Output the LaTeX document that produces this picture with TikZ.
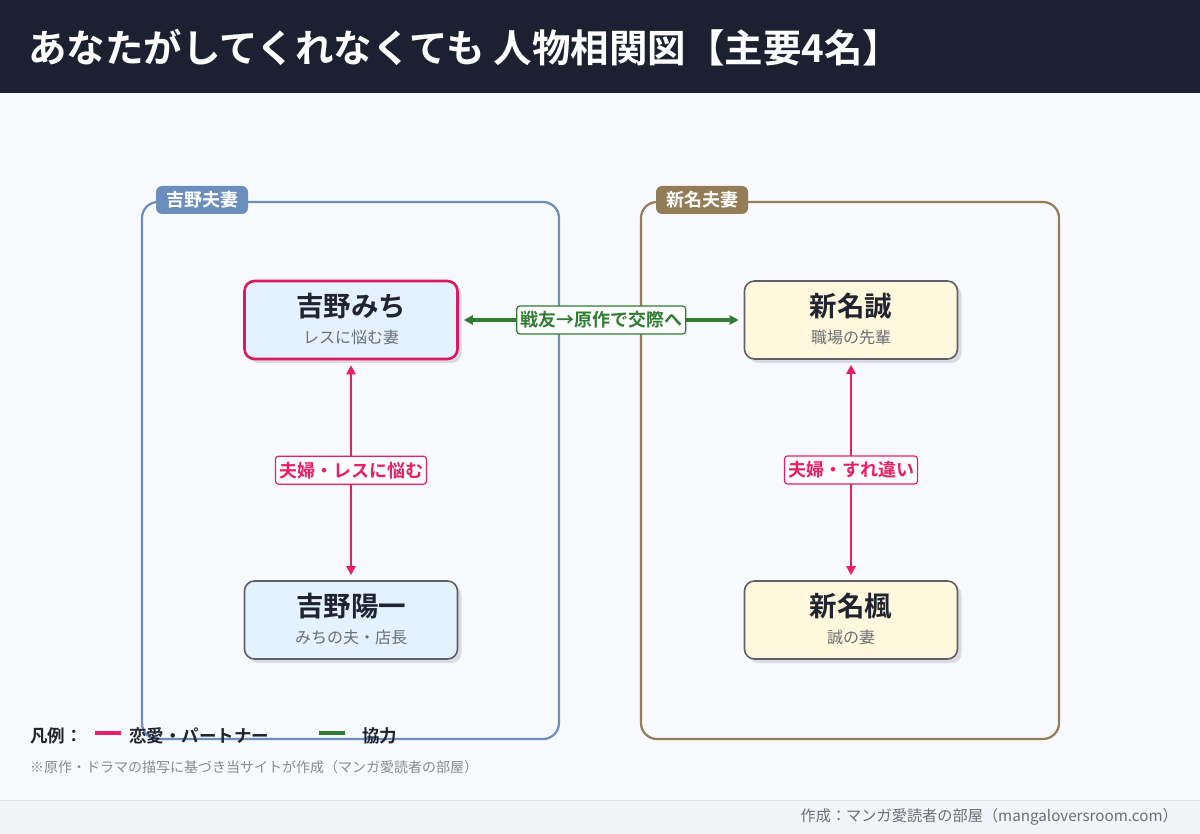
\documentclass[tikz,border=0pt]{standalone}
\usepackage{fontspec}
\setmainfont{Noto Sans CJK JP}[BoldFont={Noto Sans CJK JP Bold}]
\usetikzlibrary{arrows.meta,shadows}

\definecolor{pagebg}{HTML}{F8F9FC}
\definecolor{footbg}{HTML}{F3F4F8}
\definecolor{footline}{HTML}{DDE0E6}
\definecolor{titlebar}{HTML}{1B2130}
\definecolor{yoshino}{HTML}{6C8EBF}
\definecolor{niina}{HTML}{947C56}
\definecolor{love}{HTML}{E91E63}
\definecolor{michi}{HTML}{D81B60}
\definecolor{ally}{HTML}{2E7D32}
\definecolor{bluefill}{HTML}{E3F2FD}
\definecolor{yellowfill}{HTML}{FFF8DC}
\definecolor{frame}{HTML}{5F6069}
\definecolor{ink}{HTML}{1F2430}
\definecolor{subgray}{HTML}{6B6E76}
\definecolor{shadowgray}{HTML}{DADBE3}

\tikzset{
  person/.style={draw=frame, line width=1.6pt, rounded corners=10pt,
    minimum width=213pt, minimum height=78pt, inner sep=0pt,
    drop shadow={shadow xshift=4pt, shadow yshift=-4pt, fill=shadowgray, opacity=1}},
  pname/.style={text=ink, font=\fontsize{27.5}{27.5}\selectfont\bfseries, inner sep=0pt},
  prole/.style={text=subgray, font=\fontsize{16}{16}\selectfont, inner sep=0pt},
  group/.style={line width=2.2pt, rounded corners=16pt},
  grouptab/.style={rounded corners=6pt, text=white, minimum width=92pt, minimum height=28pt,
    inner sep=0pt, font=\fontsize{18}{18}\selectfont\bfseries},
  tag/.style={fill=white, draw, line width=1.2pt, rounded corners=3pt, inner xsep=3.5pt,
    inner ysep=5.5pt, font=\fontsize{18}{18}\selectfont\bfseries},
  rel/.style={line width=2.6pt, {Triangle[length=9pt,width=9pt]}-{Triangle[length=9pt,width=9pt]},
    shorten <=5pt, shorten >=5pt}
}

\begin{document}
\begin{tikzpicture}[x=1pt,y=-1pt]
  % page, title bar, footer
  \fill[pagebg] (0,0) rectangle (1200,834);
  \useasboundingbox (0,0) rectangle (1200,834);
  \fill[titlebar] (0,0) rectangle (1200,93);
  \fill[footbg] (0,800) rectangle (1200,834);
  \draw[footline, line width=1pt] (0,800)--(1200,800);
  \node[anchor=west, text=white, inner sep=0pt, font=\fontsize{38.5}{38.5}\selectfont\bfseries]
    (title) at (28,48) {あなたがしてくれなくても 人物相関図【主要4名】};

  % groups
  \draw[group, yoshino] (142,202) rectangle (559,739);
  \node[grouptab, fill=yoshino] (gyoshino) at (202,200) {吉野夫妻};
  \draw[group, niina] (641,202) rectangle (1059,739);
  \node[grouptab, fill=niina] (gniina) at (702,200) {新名夫妻};

  % people
  \node[person, fill=bluefill, draw=michi, line width=2.6pt] (michi) at (351,320) {};
  \node[pname] (michi-n) at (351,306) {吉野みち};
  \node[prole] (michi-r) at (351,337) {レスに悩む妻};

  \node[person, fill=bluefill] (yoichi) at (351,620) {};
  \node[pname] (yoichi-n) at (351,606) {吉野陽一};
  \node[prole] (yoichi-r) at (351,637) {みちの夫・店長};

  \node[person, fill=yellowfill] (makoto) at (851,320) {};
  \node[pname] (makoto-n) at (851,306) {新名誠};
  \node[prole] (makoto-r) at (851,337) {職場の先輩};

  \node[person, fill=yellowfill] (kaede) at (851,620) {};
  \node[pname] (kaede-n) at (851,606) {新名楓};
  \node[prole] (kaede-r) at (851,637) {誠の妻};

  % relations
  \draw[rel, love] (michi) -- node[tag, draw=love, text=love] (r1) {夫婦・レスに悩む} (yoichi);
  \draw[rel, love] (makoto) -- node[tag, draw=love, text=love] (r2) {夫婦・すれ違い} (kaede);
  \draw[rel, ally, line width=3.4pt] (michi) -- node[tag, draw=ally, text=ally] (r3) {戦友→原作で交際へ} (makoto);

  % legend
  \node[anchor=west, inner sep=0pt, text=ink, font=\fontsize{17.5}{17.5}\selectfont\bfseries]
    (legend) at (30,736) {凡例：};
  \coordinate (l1a) at (95,733);
  \coordinate (l1b) at (121,733);
  \draw[love, line width=4pt] (l1a) -- (l1b);
  \node[anchor=west, inner sep=0pt, text=ink, font=\fontsize{17.5}{17.5}\selectfont\bfseries]
    (leg-love) at (129,736) {恋愛・パートナー};
  \coordinate (l2a) at (319,733);
  \coordinate (l2b) at (345,733);
  \draw[ally, line width=4pt] (l2a) -- (l2b);
  \node[anchor=west, inner sep=0pt, text=ink, font=\fontsize{17.5}{17.5}\selectfont\bfseries]
    (leg-ally) at (362,736) {協力};
  \node[anchor=west, inner sep=0pt, text=subgray!80, font=\fontsize{14}{14}\selectfont]
    (note) at (30,767) {※原作・ドラマの描写に基づき当サイトが作成（マンガ愛読者の部屋）};
  \node[anchor=east, inner sep=0pt, text=subgray, font=\fontsize{15.2}{15.2}\selectfont]
    (credit) at (1178,817) {作成：マンガ愛読者の部屋（mangaloversroom.com）};
\end{tikzpicture}
\end{document}
